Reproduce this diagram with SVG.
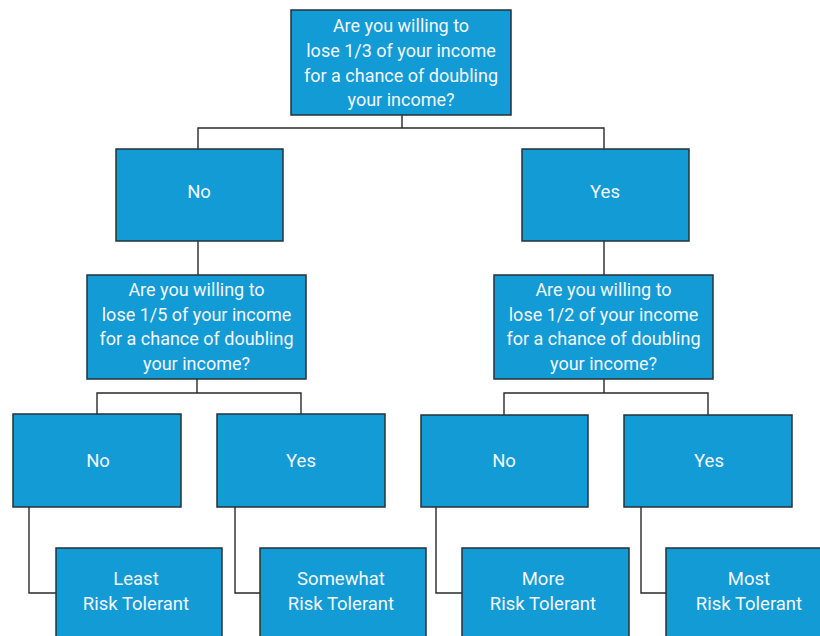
<svg xmlns="http://www.w3.org/2000/svg" width="820" height="636" viewBox="0 0 820 636">
<style>
.box{fill:#129bd5;stroke:#263238;stroke-width:1.5}
.q{font-family:Roboto,"Liberation Sans",sans-serif;font-size:18px;fill:#f4f7fa;text-anchor:middle}
.a{font-family:Roboto,"Liberation Sans",sans-serif;font-size:18.5px;fill:#f4f7fa;text-anchor:middle}
.c{fill:none;stroke:#2a2a2a;stroke-width:1.4}
</style>
<rect width="820" height="636" fill="#ffffff"/>
<g id="connectors">
<path class="c" d="M402,115V128M198,149V128H604V149"/>
<path class="c" d="M198,241V275M604,241V275"/>
<path class="c" d="M197,379V393M97,414V393H301V414"/>
<path class="c" d="M604,379V393M504,415V393H708V415"/>
<path class="c" d="M29,507V593H56M235,507V593H260M436,507V593H462M641,507V593H666"/>
</g>
<g id="q1">
<rect class="box" x="291" y="10" width="220" height="105"/>
<text class="q" x="401" y="32">Are you willing to</text>
<text class="q" x="401" y="57">lose 1/3 of your income</text>
<text class="q" x="401" y="81.5">for a chance of doubling</text>
<text class="q" x="401" y="106">your income?</text>
</g>
<g id="no1">
<rect class="box" x="116" y="149" width="167" height="92"/>
<text class="a" x="199" y="198">No</text>
</g>
<g id="yes1">
<rect class="box" x="522" y="149" width="167" height="92"/>
<text class="a" x="605" y="198">Yes</text>
</g>
<g id="q2">
<rect class="box" x="87" y="275" width="219" height="104"/>
<text class="q" x="196.5" y="296">Are you willing to</text>
<text class="q" x="196.5" y="320.5">lose 1/5 of your income</text>
<text class="q" x="196.5" y="345">for a chance of doubling</text>
<text class="q" x="196.5" y="369.5">your income?</text>
</g>
<g id="q3">
<rect class="box" x="494" y="275" width="219" height="104"/>
<text class="q" x="603.5" y="296">Are you willing to</text>
<text class="q" x="603.5" y="320.5">lose 1/2 of your income</text>
<text class="q" x="603.5" y="345">for a chance of doubling</text>
<text class="q" x="603.5" y="369.5">your income?</text>
</g>
<g id="no2">
<rect class="box" x="13" y="414" width="168" height="93"/>
<text class="a" x="98" y="467">No</text>
</g>
<g id="yes2">
<rect class="box" x="217" y="414" width="168" height="93"/>
<text class="a" x="301" y="467">Yes</text>
</g>
<g id="no3">
<rect class="box" x="421" y="415" width="167" height="92"/>
<text class="a" x="504" y="467">No</text>
</g>
<g id="yes3">
<rect class="box" x="624" y="415" width="168" height="92"/>
<text class="a" x="709" y="467">Yes</text>
</g>
<g id="least">
<rect class="box" x="56" y="548" width="166" height="100"/>
<text class="a" x="136" y="585">Least</text>
<text class="a" x="136" y="610">Risk Tolerant</text>
</g>
<g id="somewhat">
<rect class="box" x="260" y="548" width="166" height="100"/>
<text class="a" x="341" y="585">Somewhat</text>
<text class="a" x="341" y="610">Risk Tolerant</text>
</g>
<g id="more">
<rect class="box" x="462" y="548" width="167" height="100"/>
<text class="a" x="543" y="585">More</text>
<text class="a" x="543" y="610">Risk Tolerant</text>
</g>
<g id="most">
<rect class="box" x="666" y="548" width="167" height="100"/>
<text class="a" x="749" y="585">Most</text>
<text class="a" x="749" y="610">Risk Tolerant</text>
</g>
</svg>
